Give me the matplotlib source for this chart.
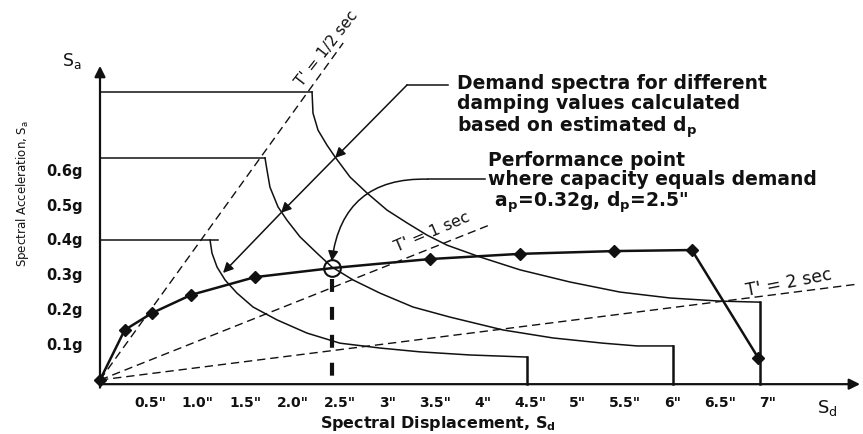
import numpy as np
import matplotlib
matplotlib.use("Agg")
import matplotlib.pyplot as plt

# capacity curve (Sd in inches, Sa in g)
capacity_sd = [0.0, 0.26, 0.55, 0.96, 1.63, 3.47, 4.42, 5.41, 6.23, 6.93]
capacity_sa = [0.0, 0.144, 0.193, 0.245, 0.296, 0.348, 0.363, 0.371, 0.374, 0.063]

# performance point
perf_sd = 2.44
perf_sa = 0.322

# demand spectra (corner of plateau, then descending branch)
demand1_sd = [2.232, 2.242, 2.295, 2.389, 2.474, 2.632, 2.811, 3.021, 3.232, 3.442, 3.653,
              4.0, 4.421, 4.947, 5.474, 6.0, 6.526, 6.947]
demand1_sa = [0.829, 0.768, 0.719, 0.676, 0.642, 0.584, 0.538, 0.489, 0.452, 0.417, 0.388,
              0.354, 0.317, 0.282, 0.253, 0.236, 0.227, 0.224]
demand2_sd = [1.737, 1.758, 1.789, 1.874, 1.968, 2.105, 2.284, 2.442, 2.663, 2.947, 3.295,
              3.684, 4.242, 4.768, 5.295, 5.653, 6.032]
demand2_sa = [0.639, 0.604, 0.555, 0.498, 0.460, 0.412, 0.365, 0.325, 0.288, 0.250, 0.210,
              0.181, 0.144, 0.121, 0.106, 0.098, 0.098]
demand3_sd = [1.158, 1.179, 1.232, 1.316, 1.442, 1.611, 1.863, 2.179, 2.526, 2.947, 3.368,
              3.895, 4.495]
demand3_sa = [0.403, 0.365, 0.325, 0.288, 0.250, 0.210, 0.173, 0.135, 0.106, 0.092, 0.081,
              0.072, 0.066]
plateau3_end = 1.24

# constant period lines: end points
period_labels = ["T' = 1/2 sec", "T' = 1 sec", "T' = 2 sec"]
period_end_sd = [2.56, 4.10, 7.95]
period_end_sa = [0.97, 0.446, 0.275]

xtick_vals = [0.5, 1.0, 1.5, 2.0, 2.5, 3, 3.5, 4, 4.5, 5, 5.5, 6, 6.5, 7]
xtick_labels = ['0.5"', '1.0"', '1.5"', '2.0"', '2.5"', '3"', '3.5"', '4"', '4.5"',
                '5"', '5.5"', '6"', '6.5"', '7"']
ytick_vals = [0.1, 0.2, 0.3, 0.4, 0.5, 0.6]
ytick_labels = ['0.1g', '0.2g', '0.3g', '0.4g', '0.5g', '0.6g']

plt.rcParams['font.family'] = ['DejaVu Sans']
ink = '#111111'

fig = plt.figure(figsize=(8.63, 4.34), dpi=100)
ax = fig.add_axes([0, 0, 1, 1])
ax.set_xlim(-100 / 95, 763 / 95)
ax.set_ylim(-54 / 347.5, 380 / 347.5)
ax.axis('off')

x_axis_y = -0.012

# axes with arrows
ax.annotate('', xy=(8.03, x_axis_y), xytext=(0, x_axis_y),
            arrowprops=dict(arrowstyle='-|>', color=ink, lw=1.6, mutation_scale=16))
ax.annotate('', xy=(0, 0.912), xytext=(0, -0.03),
            arrowprops=dict(arrowstyle='-|>', color=ink, lw=1.6, mutation_scale=16))
ax.text(-0.295, 0.918, 'S$_\\mathregular{a}$', fontsize=12.5, ha='center', va='center', color=ink)
ax.text(7.66, -0.08, 'S$_\\mathregular{d}$', fontsize=13, ha='center', va='center', color=ink)

for v, lab in zip(xtick_vals, xtick_labels):
    ax.text(v + 0.03, -0.066, lab, fontsize=10, fontweight='bold', ha='center', va='center', color=ink)
for v, lab in zip(ytick_vals, ytick_labels):
    ax.text(-0.18, v, lab, fontsize=10.5, fontweight='bold', ha='right', va='center', color=ink)

ax.text(-0.82, 0.538, 'Spectral Acceleration, S$_\\mathregular{a}$', fontsize=8.5, rotation=90,
        ha='center', va='center', color=ink)
ax.text(3.56, -0.124, 'Spectral Displacement, S$_\\mathregular{d}$', fontsize=11.5, fontweight='bold',
        ha='center', va='center', color=ink)

# constant period lines
for ex, ey in zip(period_end_sd, period_end_sa):
    ax.plot([0, ex], [0, ey], color=ink, lw=1.0, dashes=(6, 3.5))

ax.text(2.39, 0.955, period_labels[0], fontsize=11, rotation=52, ha='center', va='center', color=ink)
ax.text(3.5, 0.426, period_labels[1], fontsize=11.5, rotation=23, ha='center', va='center', color=ink)
ax.text(7.25, 0.279, period_labels[2], fontsize=12.5, rotation=11, ha='center', va='center', color=ink)

# demand spectra
for sd, sa, xend in [(demand1_sd, demand1_sa, demand1_sd[0]),
                     (demand2_sd, demand2_sa, demand2_sd[0]),
                     (demand3_sd, demand3_sa, plateau3_end)]:
    ax.plot([0, xend], [sa[0], sa[0]], color=ink, lw=1.1)
    ax.plot(sd, sa, color=ink, lw=1.1)
    ax.plot([sd[-1], sd[-1]], [sa[-1], x_axis_y], color=ink, lw=1.8)

# capacity curve
ax.plot(capacity_sd[:5] + [perf_sd] + capacity_sd[5:], capacity_sa[:5] + [perf_sa] + capacity_sa[5:],
        color=ink, lw=1.8)
ax.plot(capacity_sd, capacity_sa, ls='none', marker='D', ms=6, color=ink)
ax.plot([perf_sd], [perf_sa], ls='none', marker='o', ms=12, mfc='none', mec=ink, mew=1.5)
ax.plot([perf_sd, perf_sd], [perf_sa - 0.03, 0.0], color=ink, lw=3, dashes=(3.1, 3.6))

# demand label with arrows
ax.text(3.76, 0.786, 'Demand spectra for different\ndamping values calculated\nbased on estimated d$_\\mathregular{p}$',
        fontsize=13.5, fontweight='bold', ha='left', va='center', linespacing=1.1, color=ink)
ax.plot([3.66, 3.232], [0.849, 0.849], color=ink, lw=1.1)
arrow_pts = [(3.232, 0.849), (2.474, 0.639), (1.905, 0.481), (1.295, 0.308)]
for p0, p1 in zip(arrow_pts[:-1], arrow_pts[1:]):
    ax.annotate('', xy=p1, xytext=p0,
                arrowprops=dict(arrowstyle='-|>', color=ink, lw=1.1, mutation_scale=15,
                                shrinkA=0, shrinkB=0))

# performance point label
ax.text(4.08, 0.567, 'Performance point\nwhere capacity equals demand\n a$_\\mathregular{p}$=0.32g, d$_\\mathregular{p}$=2.5"',
        fontsize=13.5, fontweight='bold', ha='left', va='center', linespacing=1.0, color=ink)
ax.plot([4.05, 3.45], [0.578, 0.578], color=ink, lw=1.1)
ax.annotate('', xy=(perf_sd, perf_sa + 0.02), xytext=(3.45, 0.578),
            arrowprops=dict(arrowstyle='-|>', color=ink, lw=1.1, mutation_scale=15,
                            shrinkA=0, shrinkB=0, connectionstyle='arc3,rad=0.45'))

fig.savefig('out.png', dpi=100, facecolor='white')
